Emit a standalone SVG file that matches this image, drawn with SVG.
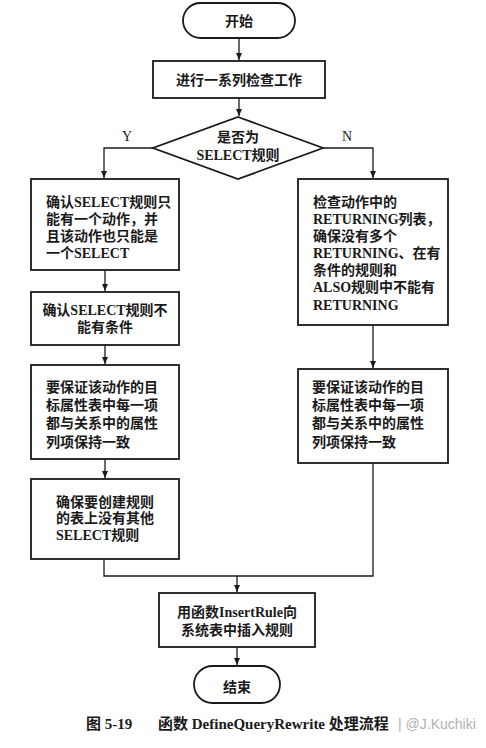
<svg xmlns="http://www.w3.org/2000/svg" width="486" height="748" viewBox="0 0 486 748">
<style>
.n{fill:#fff;stroke:#1a1a1a;stroke-width:1.8}
.t{font-family:"Liberation Serif","Noto Sans CJK SC",serif;font-size:14px;font-weight:bold;fill:#1a1a1a}
.c{text-anchor:middle}
.e{fill:none;stroke:#1a1a1a;stroke-width:1.3}
.lb{font-family:"Liberation Serif",serif;font-size:14px;fill:#1a1a1a;text-anchor:middle}
</style>
<defs>
<marker id="ah" markerWidth="8" markerHeight="8" refX="7" refY="4" orient="auto" markerUnits="userSpaceOnUse">
<path d="M0,1 L7,4 L0,7 Z" fill="#1a1a1a"/>
</marker>
</defs>
<rect width="486" height="748" fill="#fff"/>
<g id="connectors">
<path class="e" d="M239,38 V60" marker-end="url(#ah)"/>
<path class="e" d="M239,98 V116" marker-end="url(#ah)"/>
<path class="e" d="M153,148 H104 V178" marker-end="url(#ah)"/>
<path class="e" d="M323,148 H373 V178" marker-end="url(#ah)"/>
<path class="e" d="M105,270 V291" marker-end="url(#ah)"/>
<path class="e" d="M105,345 V364" marker-end="url(#ah)"/>
<path class="e" d="M105,459 V478" marker-end="url(#ah)"/>
<path class="e" d="M373,325 V368" marker-end="url(#ah)"/>
<path class="e" d="M104,559 V576 H373 V463"/>
<path class="e" d="M237,576 V592" marker-end="url(#ah)"/>
<path class="e" d="M237,647 V665" marker-end="url(#ah)"/>
<text class="lb" x="127" y="141">Y</text>
<text class="lb" x="347" y="141">N</text>
</g>
<g id="start">
<rect class="n" x="183" y="3" width="112" height="35" rx="17.5"/>
<text class="t c" x="239" y="26">开始</text>
</g>
<g id="check">
<rect class="n" x="153" y="61" width="172" height="37"/>
<text class="t c" x="239" y="85">进行一系列检查工作</text>
</g>
<g id="decision">
<polygon class="n" points="238,117 323,148 238,179 153,148"/>
<text class="t c" x="238" y="142">是否为</text>
<text class="t c" x="238" y="160">SELECT规则</text>
</g>
<g id="left1">
<rect class="n" x="31" y="179" width="148" height="91"/>
<text class="t" x="46" y="207">确认SELECT规则只</text>
<text class="t" x="46" y="224">能有一个动作，并</text>
<text class="t" x="46" y="241">且该动作也只能是</text>
<text class="t" x="46" y="258">一个SELECT</text>
</g>
<g id="left2">
<rect class="n" x="31" y="292" width="148" height="53"/>
<text class="t c" x="105" y="315">确认SELECT规则不</text>
<text class="t c" x="105" y="332">能有条件</text>
</g>
<g id="left3">
<rect class="n" x="31" y="365" width="148" height="94"/>
<text class="t" x="46" y="392">要保证该动作的目</text>
<text class="t" x="46" y="410">标属性表中每一项</text>
<text class="t" x="46" y="428">都与关系中的属性</text>
<text class="t" x="46" y="447">列项保持一致</text>
</g>
<g id="left4">
<rect class="n" x="31" y="479" width="148" height="80"/>
<text class="t" x="56" y="507">确保要创建规则</text>
<text class="t" x="56" y="523">的表上没有其他</text>
<text class="t" x="56" y="540">SELECT规则</text>
</g>
<g id="right1">
<rect class="n" x="298" y="179" width="150" height="146"/>
<text class="t" x="313" y="207">检查动作中的</text>
<text class="t" x="313" y="224">RETURNING列表，</text>
<text class="t" x="313" y="241">确保没有多个</text>
<text class="t" x="313" y="258">RETURNING、在有</text>
<text class="t" x="313" y="275">条件的规则和</text>
<text class="t" x="313" y="292">ALSO规则中不能有</text>
<text class="t" x="313" y="310">RETURNING</text>
</g>
<g id="right2">
<rect class="n" x="298" y="369" width="150" height="94"/>
<text class="t" x="312" y="392">要保证该动作的目</text>
<text class="t" x="312" y="410">标属性表中每一项</text>
<text class="t" x="312" y="428">都与关系中的属性</text>
<text class="t" x="312" y="447">列项保持一致</text>
</g>
<g id="insert">
<rect class="n" x="159" y="593" width="156" height="54"/>
<text class="t c" x="237" y="617">用函数InsertRule向</text>
<text class="t c" x="237" y="635">系统表中插入规则</text>
</g>
<g id="end">
<rect class="n" x="194" y="666" width="86" height="37" rx="18.5"/>
<text class="t c" x="237" y="692">结束</text>
</g>
<g id="caption">
<text class="t" x="86" y="729" style="font-size:15px">图 5-19</text>
<text class="t" x="158" y="729" style="font-size:15px">函数 DefineQueryRewrite 处理流程</text>
<text x="398" y="729" style="font-family:'Liberation Sans',sans-serif;font-size:14px;fill:#b0b0b0">| @J.Kuchiki</text>
</g>
</svg>
